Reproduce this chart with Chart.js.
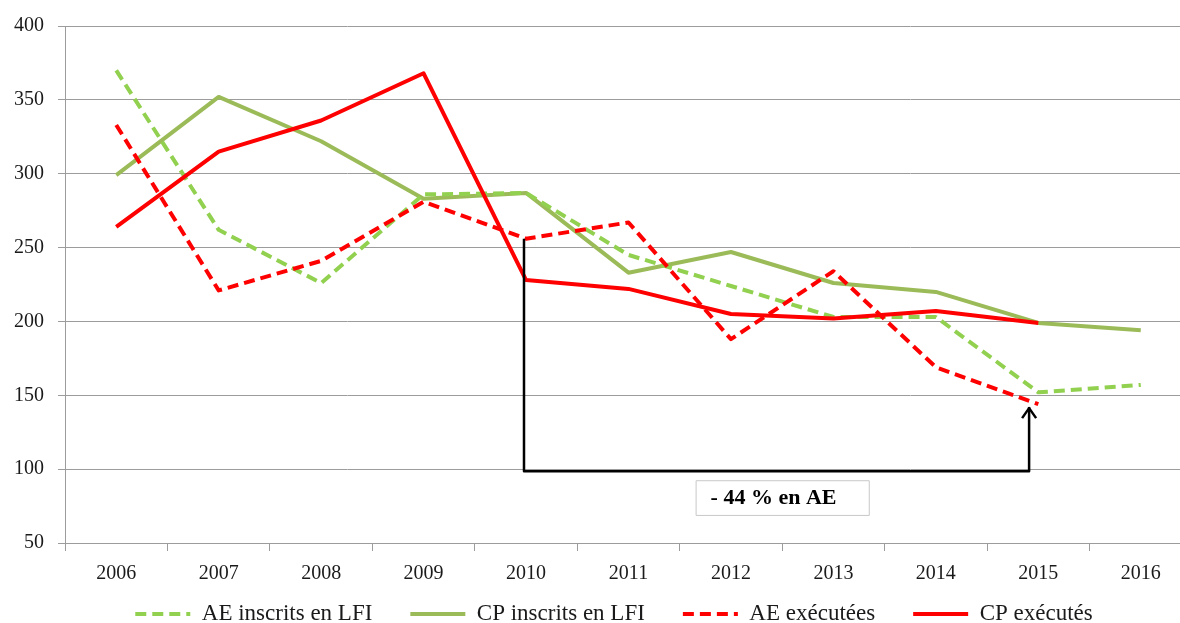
<!DOCTYPE html>
<html>
<head>
<meta charset="utf-8">
<style>
  html, body { margin: 0; padding: 0; background: #ffffff; overflow: hidden; }
  #wrap { position: absolute; left: 0; top: 0; width: 1195px; height: 623px; }
</style>
<script src="https://cdn.jsdelivr.net/npm/chart.js@4.4.1/dist/chart.umd.min.js"></script>
</head>
<body>
<div id="wrap"><canvas id="chart-node" width="1195" height="623"></canvas></div>
<script>

// CATEGORIES //
const years = ['2006', '2007', '2008', '2009', '2010', '2011', '2012', '2013', '2014', '2015', '2016'];

// SERIES (M€) //
const aeInscrits = [370, 262, 226, 286, 287, 245, 224, 203, 203, 152, 157];
const cpInscrits = [299, 352, 322, 283, 287, 233, 247, 226, 220, 199, 194];
const aeExecutees = [333, 221, 241, 281, 256, 267, 188, 234, 169, 144, null];
const cpExecutes = [264, 315, 336, 368, 228, 222, 205, 202, 207, 199, null];

// Y TICKS //
const yTicks = [50, 100, 150, 200, 250, 300, 350, 400];

// ANNOTATION //
const bracketFrom = '2010';
const bracketTo = '2015';
const bracketTop = 256;
const bracketBase = 98.5;
const arrowTip = 142;
const annotationText = '- 44 % en AE';

const GRID_COLOR = '#9c9c9c';
const FONT = '"Liberation Serif", "DejaVu Serif", serif';
const LEGEND_FONT = 23;
const LEGEND_PAD = 38;
const LEGEND_Y = 614;

/**
 * bracket + arrow + text box
 */
const bracketPlugin = {
  id: 'bracket',
  afterLayout(chart) {
    // legend sits a bit right of the canvas centre and close to the bottom edge
    const legend = chart.legend;
    legend.left += 18;
    legend.right += 18;
    legend.top = LEGEND_Y - LEGEND_PAD - LEGEND_FONT / 2;
  },
  afterDatasetsDraw(chart) {
    const {ctx, scales: {x, y}} = chart;
    const step = x.getPixelForValue(1) - x.getPixelForValue(0);

    const xFrom = x.getPixelForValue(years.indexOf(bracketFrom)) - 0.02 * step;
    const xTo = x.getPixelForValue(years.indexOf(bracketTo)) - 0.09 * step;
    const yTop = y.getPixelForValue(bracketTop);
    const yBase = y.getPixelForValue(bracketBase);
    const yTip = y.getPixelForValue(arrowTip);

    ctx.save();
    ctx.strokeStyle = '#000000';
    ctx.lineWidth = 2.5;
    ctx.lineJoin = 'round';
    ctx.beginPath();
    ctx.moveTo(xFrom, yTop);
    ctx.lineTo(xFrom, yBase);
    ctx.lineTo(xTo, yBase);
    ctx.lineTo(xTo, yTip);
    ctx.stroke();

    // ARROW HEAD //
    ctx.beginPath();
    ctx.moveTo(xTo - 7, yTip + 11);
    ctx.lineTo(xTo, yTip + 1);
    ctx.lineTo(xTo + 7, yTip + 11);
    ctx.stroke();

    // TEXT BOX //
    const boxCenter = x.getPixelForValue(years.indexOf('2012')) + 0.5 * step;
    const boxW = 1.69 * step;
    const boxTop = y.getPixelForValue(92.5);
    const boxBottom = y.getPixelForValue(69);
    ctx.lineWidth = 1;
    ctx.strokeStyle = '#c8c8c8';
    ctx.fillStyle = '#ffffff';
    ctx.fillRect(boxCenter - boxW / 2, boxTop, boxW, boxBottom - boxTop);
    ctx.strokeRect(boxCenter - boxW / 2 + 0.5, boxTop + 0.5, boxW, boxBottom - boxTop);

    ctx.fillStyle = '#000000';
    ctx.font = `bold 22px ${ FONT }`;
    ctx.textAlign = 'left';
    ctx.textBaseline = 'middle';
    ctx.fillText(annotationText, boxCenter - boxW / 2 + 15, (boxTop + boxBottom) / 2 + 1);
    ctx.restore();
  }
};

const chart = new Chart(document.getElementById('chart-node'), {
  type: 'line',
  data: {
    labels: years,
    datasets: [
      {
        label: 'AE inscrits en LFI',
        data: aeInscrits,
        borderColor: '#92d050',
        backgroundColor: '#92d050',
        borderWidth: 4,
        borderDash: [11, 6],
        order: 2
      },
      {
        label: 'CP inscrits en LFI',
        data: cpInscrits,
        borderColor: '#9bbb59',
        backgroundColor: '#9bbb59',
        borderWidth: 4,
        order: 3
      },
      {
        label: 'AE exécutées',
        data: aeExecutees,
        borderColor: '#ff0000',
        backgroundColor: '#ff0000',
        borderWidth: 4,
        borderDash: [11, 6],
        order: 1
      },
      {
        label: 'CP exécutés',
        data: cpExecutes,
        borderColor: '#ff0000',
        backgroundColor: '#ff0000',
        borderWidth: 4,
        order: 0
      }
    ]
  },
  options: {
    responsive: false,
    animation: false,
    events: [],
    layout: {padding: {top: 25, right: 3, bottom: 0, left: 0}},
    elements: {
      point: {radius: 0, hoverRadius: 0},
      line: {tension: 0, borderCapStyle: 'butt', borderJoinStyle: 'round'}
    },
    scales: {
      x: {
        type: 'category',
        offset: true,
        grid: {
          offset: true,
          drawOnChartArea: false,
          drawTicks: true,
          tickLength: 8,
          color: GRID_COLOR
        },
        border: {display: true, color: GRID_COLOR, width: 1},
        ticks: {
          color: '#1a1a1a',
          padding: 11,
          maxRotation: 0,
          font: {family: FONT, size: 20}
        },
        afterFit(scale) { scale.height = 48; }
      },
      y: {
        min: 50,
        max: 400,
        afterBuildTicks(scale) { scale.ticks = yTicks.map(v => ({value: v})); },
        grid: {
          color: GRID_COLOR,
          tickLength: 7,
          drawTicks: true
        },
        border: {display: true, color: GRID_COLOR, width: 1},
        ticks: {
          color: '#1a1a1a',
          padding: 14,
          font: {family: FONT, size: 20}
        },
        afterFit(scale) { scale.width = 65; }
      }
    },
    plugins: {
      tooltip: {enabled: false},
      legend: {
        position: 'bottom',
        maxHeight: 32,
        labels: {
          usePointStyle: true,
          pointStyle: 'line',
          pointStyleWidth: 55,
          boxHeight: 4,
          padding: LEGEND_PAD,
          color: '#1a1a1a',
          font: {family: FONT, size: LEGEND_FONT},
          // keep dataset order and dash patterns in the legend samples
          generateLabels(chart) {
            return chart.data.datasets.map((ds, i) => ({
              text: ds.label,
              datasetIndex: i,
              fillStyle: ds.borderColor,
              strokeStyle: ds.borderColor,
              lineWidth: ds.borderWidth,
              lineDash: ds.borderDash || [],
              lineCap: 'butt',
              pointStyle: 'line',
              fontColor: '#1a1a1a',
              hidden: false
            }));
          }
        }
      }
    }
  },
  plugins: [bracketPlugin]
});

</script>
</body>
</html>
